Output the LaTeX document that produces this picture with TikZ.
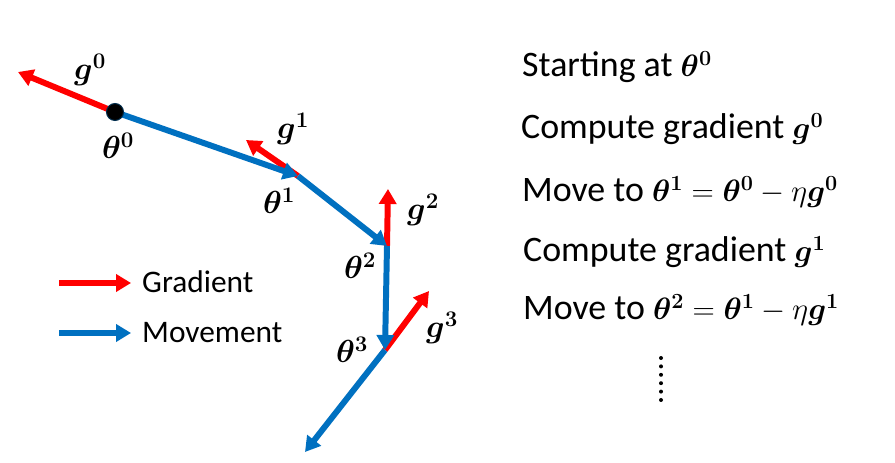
\RequirePackage{fix-cm}
\documentclass[tikz,border=0pt]{standalone}
\usepackage{fontspec}
\setmainfont{Carlito}
\usepackage{amsmath,bm}
\usetikzlibrary{arrows.meta}

\definecolor{gradred}{RGB}{255,0,0}
\definecolor{moveblue}{RGB}{0,112,192}

\newcommand{\bigmath}[1]{{\fontsize{31}{36}\selectfont$#1$}}

\begin{document}
\begin{tikzpicture}[
  x=1bp,
  y=-1bp,
  line cap=butt,
  gradarrow/.style={draw=gradred, line width=6, -{Triangle[length=15,width=17]}},
  movearrow/.style={draw=moveblue, line width=6, -{Triangle[length=15,width=17]}},
  mathlabel/.style={font=\fontsize{32}{38}\selectfont, inner sep=0},
  steptext/.style={font=\fontsize{36}{42}\selectfont, anchor=base west, inner sep=0},
  legendtext/.style={font=\fontsize{31.5}{36}\selectfont, anchor=base west, inner sep=0},
  every node/.style={inner sep=0}
]
\path[use as bounding box] (0,0) rectangle (895,463);
\fill[white] (0,0) rectangle (895,463);

% Points of the descent path
\coordinate (t0) at (115,112);
\coordinate (t1) at (298,176);
\coordinate (t2) at (387,246);
\coordinate (t3) at (385,350);
\coordinate (tend) at (305,452);

% Gradient tips
\coordinate (g0tip) at (18,72);
\coordinate (g1tip) at (246,140);
\coordinate (g2tip) at (388,189);
\coordinate (g3tip) at (429,291);

% Gradients
\draw[gradarrow] (t0) -- (g0tip);
\draw[gradarrow] (t1) -- (g1tip);
\draw[gradarrow] (t2) -- (g2tip);
\draw[gradarrow] (t3) -- (g3tip);

% Movement
\draw[movearrow] (t0) -- (t1);
\draw[movearrow] (t1) -- (t2);
\draw[movearrow] (t2) -- (t3);
\draw[movearrow] (t3) -- (tend);

\fill[black, draw=moveblue!40!black, line width=1] (t0) circle (8.5);

% Labels on the path
\node[mathlabel] (lg0) at (90,70) {$\boldsymbol{g^0}$};
\node[mathlabel] (lt0) at (118,146) {$\boldsymbol{\theta^0}$};
\node[mathlabel] (lg1) at (293,129) {$\boldsymbol{g^1}$};
\node[mathlabel] (lt1) at (279,201) {$\boldsymbol{\theta^1}$};
\node[mathlabel] (lg2) at (423,210) {$\boldsymbol{g^2}$};
\node[mathlabel] (lt2) at (360,266) {$\boldsymbol{\theta^2}$};
\node[mathlabel] (lt3) at (352,350) {$\boldsymbol{\theta^3}$};
\node[mathlabel] (lg3) at (442,328) {$\boldsymbol{g^3}$};

% Legend
\node[legendtext] (leggrad) at (142,293) {Gradient};
\node[legendtext] (legmove) at (142,343) {Movement};
\coordinate (leggradstart) at (59,283);
\coordinate (legmovestart) at (59,333);
\draw[gradarrow] (leggradstart) -- ([xshift=-11]leggrad.west |- leggradstart);
\draw[movearrow] (legmovestart) -- ([xshift=-11]legmove.west |- legmovestart);

% Steps on the right
\node[steptext] (s1) at (522,77) {Starting at \bigmath{\boldsymbol{\theta^0}}};
\node[steptext] (s2) at (521,139) {Compute gradient \bigmath{\boldsymbol{g^0}}};
\node[steptext] (s3) at (522,202) {Move to \bigmath{\boldsymbol{\theta^1}=\boldsymbol{\theta^0}-\eta\boldsymbol{g^0}}};
\node[steptext] (s4) at (523,262) {Compute gradient \bigmath{\boldsymbol{g^1}}};
\node[steptext] (s5) at (523,320) {Move to \bigmath{\boldsymbol{\theta^2}=\boldsymbol{\theta^1}-\eta\boldsymbol{g^1}}};

% More steps
\foreach \k in {0,...,5}
  \fill (661,358+8.4*\k) circle (2);

\end{tikzpicture}
\end{document}
